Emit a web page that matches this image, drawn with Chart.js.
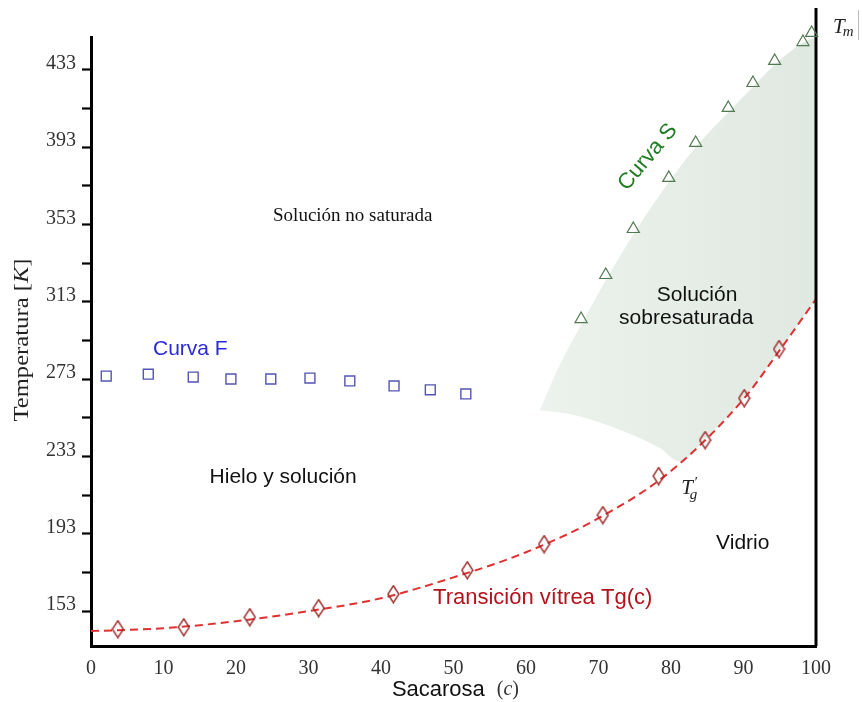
<!DOCTYPE html>
<html>
<head>
<meta charset="utf-8">
<script src="https://cdn.jsdelivr.net/npm/chart.js@4.4.1/dist/chart.umd.min.js"></script>
<style>
  html, body { margin: 0; padding: 0; background: #ffffff; }
  canvas { display: block; }
</style>
</head>
<body>
<canvas id="chart" width="862" height="702"></canvas>
<script>
// State diagram of the sucrose–water system: temperature [K] vs. sucrose content (c)

// Axis ticks
const xTicks = [0, 10, 20, 30, 40, 50, 60, 70, 80, 90, 100];
const yTicks = [153, 173, 193, 213, 233, 253, 273, 293, 313, 333, 353, 373, 393, 413, 433];
const yLabelled = [153, 193, 233, 273, 313, 353, 393, 433];

// Curva F – freezing curve (squares)
const curvaF_c = [2.1, 7.9, 14.1, 19.3, 24.8, 30.2, 35.7, 41.8, 46.8, 51.7];
const curvaF_T = [274.6, 275.6, 274.1, 273.1, 273.1, 273.6, 272.1, 269.5, 267.5, 265.4];

// Curva S – solubility curve (triangles)
const curvaS_c = [67.6, 71.0, 74.8, 79.7, 83.4, 87.9, 91.3, 94.3, 98.2, 99.4];
const curvaS_T = [304.1, 326.9, 350.7, 377.1, 395.2, 413.3, 426.2, 437.6, 447.4, 452.1];

// Glass transition measurements (diamonds)
const tg_c = [3.7, 12.8, 21.9, 31.4, 41.7, 51.9, 62.5, 70.6, 78.3, 84.7, 90.1, 94.9];
const tg_T = [143.7, 144.7, 149.9, 154.6, 161.8, 174.2, 187.7, 202.7, 222.9, 241.5, 263.2, 288.6];

// Glass transition curve Tg(c) (dashed)
const tgCurve_c = [0, 10, 20, 30, 40, 50, 60, 70, 80, 90, 95, 100];
const tgCurve_T = [142.7, 144.2, 147.8, 153.0, 159.7, 170.5, 183.5, 201.1, 225.5, 262.7, 288.0, 314.5];

// Supersaturated-solution zone: upper and lower edges
const zoneTop_c = [61.9, 64.6, 67.8, 71.2, 75.0, 79.8, 83.5, 88.0, 91.4, 94.4, 98.0, 100];
const zoneTop_T = [257.0, 280.0, 302.5, 325.5, 349.0, 375.5, 393.5, 411.5, 424.5, 436.0, 446.5, 450];
const zoneBottom_c = [61.9, 66.8, 73.0, 78.5, 81.2, 84.7, 90.0, 95.0, 100];
const zoneBottom_T = [257.0, 254.4, 246.7, 237.3, 230.5, 242.0, 262.7, 288.0, 314.5];

// Melting line at c = 100
const tm_c = [100, 100];
const tm_T = [135, 465];

const axisRange = { xMin: 0, xMax: 100, yMin: 135, yMax: 450 };

const pts = (xs, ys) => xs.map((v, i) => ({ x: v, y: ys[i] }));

function diamondMarker(w, h, color, lw) {
  const c = document.createElement('canvas');
  c.width = w + 2; c.height = h + 2;
  const g = c.getContext('2d');
  g.strokeStyle = color;
  g.lineWidth = lw;
  g.beginPath();
  g.moveTo(c.width / 2, 1);
  g.lineTo(c.width - 1, c.height / 2);
  g.lineTo(c.width / 2, c.height - 1);
  g.lineTo(1, c.height / 2);
  g.closePath();
  g.stroke();
  return c;
}

const SANS = '"Liberation Sans", Arial, sans-serif';
const SERIF = '"Liberation Serif", "Times New Roman", serif';

function zoneFill(context) {
  const chart = context.chart;
  const area = chart.chartArea;
  if (!area) return 'rgba(230,238,231,1)';
  const x = chart.scales.x;
  const g = chart.ctx.createLinearGradient(x.getPixelForValue(62), 0, area.right, 0);
  g.addColorStop(0, 'rgba(236,242,237,1)');
  g.addColorStop(0.35, 'rgba(231,239,232,1)');
  g.addColorStop(1, 'rgba(224,233,225,1)');
  return g;
}

const annotations = {
  id: 'phaseAnnotations',
  afterDatasetsDraw(chart) {
    const { ctx, chartArea } = chart;
    const xs = chart.scales.x, ys = chart.scales.y;
    const px = v => xs.getPixelForValue(v);
    const py = v => ys.getPixelForValue(v);

    function put(text, x, y, font, color, rot) {
      ctx.save();
      ctx.font = font;
      ctx.fillStyle = color;
      ctx.textAlign = 'center';
      ctx.textBaseline = 'middle';
      ctx.translate(x, y);
      if (rot) ctx.rotate(rot);
      ctx.fillText(text, 0, 0);
      ctx.restore();
    }

    // Region labels
    put('Solución no saturada', px(36.1), py(357.4), '19px ' + SERIF, '#111');
    put('Curva F', px(13.7), py(288.6), '21px ' + SANS, '#2b2bd6');
    put('Hielo y solución', px(26.5), py(222.3), '21px ' + SANS, '#111');
    put('Curva S', px(76.8), py(387.9), '22px ' + SANS, '#1f7d24', -50 * Math.PI / 180);
    put('Solución', px(83.6), py(316.5), '21px ' + SANS, '#111');
    put('sobresaturada', px(82.1), py(304.6), '21px ' + SANS, '#111');
    put('Vidrio', px(89.9), py(188.2), '21px ' + SANS, '#111');
    put('Transición vítrea Tg(c)', px(62.3), py(159.7), '22px ' + SANS, '#b5121b');

    // T'_g
    ctx.save();
    ctx.fillStyle = '#222';
    ctx.textBaseline = 'alphabetic';
    ctx.textAlign = 'left';
    let bx = px(81.4), by = py(217.2) + 7;
    ctx.font = 'italic 21px ' + SERIF;
    ctx.fillText('T', bx, by);
    const tw = ctx.measureText('T').width;
    ctx.font = 'italic 15px ' + SERIF;
    ctx.fillText('\u2032', bx + tw + 1, by - 7);
    ctx.fillText('g', bx + tw - 3, by + 5);
    ctx.restore();

    // T_m beside the melting line
    ctx.save();
    ctx.fillStyle = '#222';
    ctx.textBaseline = 'alphabetic';
    ctx.textAlign = 'left';
    bx = chartArea.right + 17; by = chartArea.top - 4;
    ctx.font = 'italic 21px ' + SERIF;
    ctx.fillText('T', bx, by);
    const tw2 = ctx.measureText('T').width;
    ctx.font = 'italic 15px ' + SERIF;
    ctx.fillText('m', bx + tw2 - 2, by + 3);
    ctx.strokeStyle = '#b8b8b8';
    ctx.lineWidth = 1;
    ctx.beginPath();
    ctx.moveTo(chartArea.right + 42.5, chartArea.top - 27);
    ctx.lineTo(chartArea.right + 42.5, chartArea.top + 3);
    ctx.stroke();
    ctx.restore();

    // Y axis title: Temperatura [K]
    ctx.save();
    ctx.translate(22, 340);
    ctx.rotate(-Math.PI / 2);
    ctx.scale(1.12, 1);
    ctx.fillStyle = '#222';
    ctx.textBaseline = 'middle';
    ctx.textAlign = 'left';
    const fr = '22px ' + SERIF, fi = 'italic 22px ' + SERIF;
    const parts = [['Temperatura [', fr], ['K', fi], [']', fr]];
    let total = 0;
    parts.forEach(p => { ctx.font = p[1]; total += ctx.measureText(p[0]).width; });
    let cx = -total / 2;
    parts.forEach(p => { ctx.font = p[1]; ctx.fillText(p[0], cx, 0); cx += ctx.measureText(p[0]).width; });
    ctx.restore();

    // X axis title: Sacarosa (c)
    ctx.save();
    ctx.fillStyle = '#111';
    ctx.textBaseline = 'middle';
    ctx.textAlign = 'left';
    ctx.font = '22px ' + SANS;
    const sx = px(41.5);
    const ty = chartArea.bottom + 44;
    ctx.fillText('Sacarosa', sx, ty);
    const sw = ctx.measureText('Sacarosa').width;
    ctx.font = '20px ' + SERIF;
    ctx.fillStyle = '#333';
    ctx.fillText('(', sx + sw + 12, ty);
    const w1 = ctx.measureText('(').width;
    ctx.font = 'italic 20px ' + SERIF;
    ctx.fillText('c', sx + sw + 12 + w1, ty);
    const w2 = ctx.measureText('c').width;
    ctx.font = '20px ' + SERIF;
    ctx.fillText(')', sx + sw + 12 + w1 + w2, ty);
    ctx.restore();
  }
};

new Chart(document.getElementById('chart'), {
  type: 'line',
  data: {
    datasets: [
      {
        label: 'zona sobresaturada',
        data: pts(zoneTop_c, zoneTop_T),
        borderWidth: 0,
        borderColor: 'rgba(0,0,0,0)',
        pointRadius: 0,
        cubicInterpolationMode: 'monotone',
        backgroundColor: zoneFill,
        fill: '+1',
        order: 10
      },
      {
        label: 'zona borde inferior',
        data: pts(zoneBottom_c, zoneBottom_T),
        borderWidth: 0,
        borderColor: 'rgba(0,0,0,0)',
        pointRadius: 0,
        cubicInterpolationMode: 'monotone',
        fill: false,
        order: 9
      },
      {
        label: 'Tg(c)',
        data: pts(tgCurve_c, tgCurve_T),
        borderColor: '#e03030',
        borderWidth: 2,
        borderDash: [8, 5],
        pointRadius: 0,
        cubicInterpolationMode: 'monotone',
        fill: false,
        order: 5
      },
      {
        label: 'Tm',
        data: pts(tm_c, tm_T),
        borderColor: '#000',
        borderWidth: 3,
        pointRadius: 0,
        fill: false,
        clip: false,
        order: 4
      },
      {
        label: 'Curva F',
        data: pts(curvaF_c, curvaF_T),
        showLine: false,
        pointStyle: 'rect',
        pointRadius: 7,
        borderColor: '#5454b4',
        borderWidth: 1.4,
        backgroundColor: 'rgba(0,0,0,0)',
        order: 3
      },
      {
        label: 'Curva S',
        data: pts(curvaS_c, curvaS_T),
        showLine: false,
        pointStyle: 'triangle',
        pointRadius: 7,
        borderColor: '#527a52',
        borderWidth: 1.2,
        backgroundColor: 'rgba(0,0,0,0)',
        clip: false,
        order: 2
      },
      {
        label: 'Tg',
        data: pts(tg_c, tg_T),
        showLine: false,
        pointStyle: diamondMarker(11, 17, '#9c2a2a', 1.4),
        pointRadius: 6,
        borderColor: '#9c2a2a',
        backgroundColor: 'rgba(0,0,0,0)',
        order: 1
      }
    ]
  },
  options: {
    responsive: false,
    animation: false,
    events: [],
    layout: { padding: { left: 0, top: 37, right: 46, bottom: 0 } },
    plugins: {
      legend: { display: false },
      tooltip: { enabled: false },
      filler: { drawTime: 'beforeDatasetsDraw' }
    },
    scales: {
      x: {
        type: 'linear',
        min: axisRange.xMin,
        max: axisRange.xMax,
        afterBuildTicks: s => { s.ticks = xTicks.map(v => ({ value: v })); },
        afterFit: s => { s.height = 56; },
        grid: { display: false, drawTicks: false },
        border: { display: true, color: '#000', width: 3 },
        ticks: {
          padding: 11,
          color: '#333',
          font: { family: SERIF, size: 20 },
          maxRotation: 0
        }
      },
      y: {
        type: 'linear',
        min: axisRange.yMin,
        max: axisRange.yMax,
        afterBuildTicks: s => { s.ticks = yTicks.map(v => ({ value: v })); },
        afterFit: s => { s.width = 91; },
        grid: { drawOnChartArea: false, drawTicks: true, tickLength: 9, tickWidth: 2.2, tickColor: '#000' },
        border: { display: true, color: '#000', width: 3 },
        ticks: {
          padding: 6,
          labelOffset: -6,
          color: '#333',
          font: { family: SERIF, size: 20 },
          callback: v => (yLabelled.includes(v) ? String(v) : '')
        }
      }
    }
  },
  plugins: [annotations]
});
</script>
</body>
</html>
